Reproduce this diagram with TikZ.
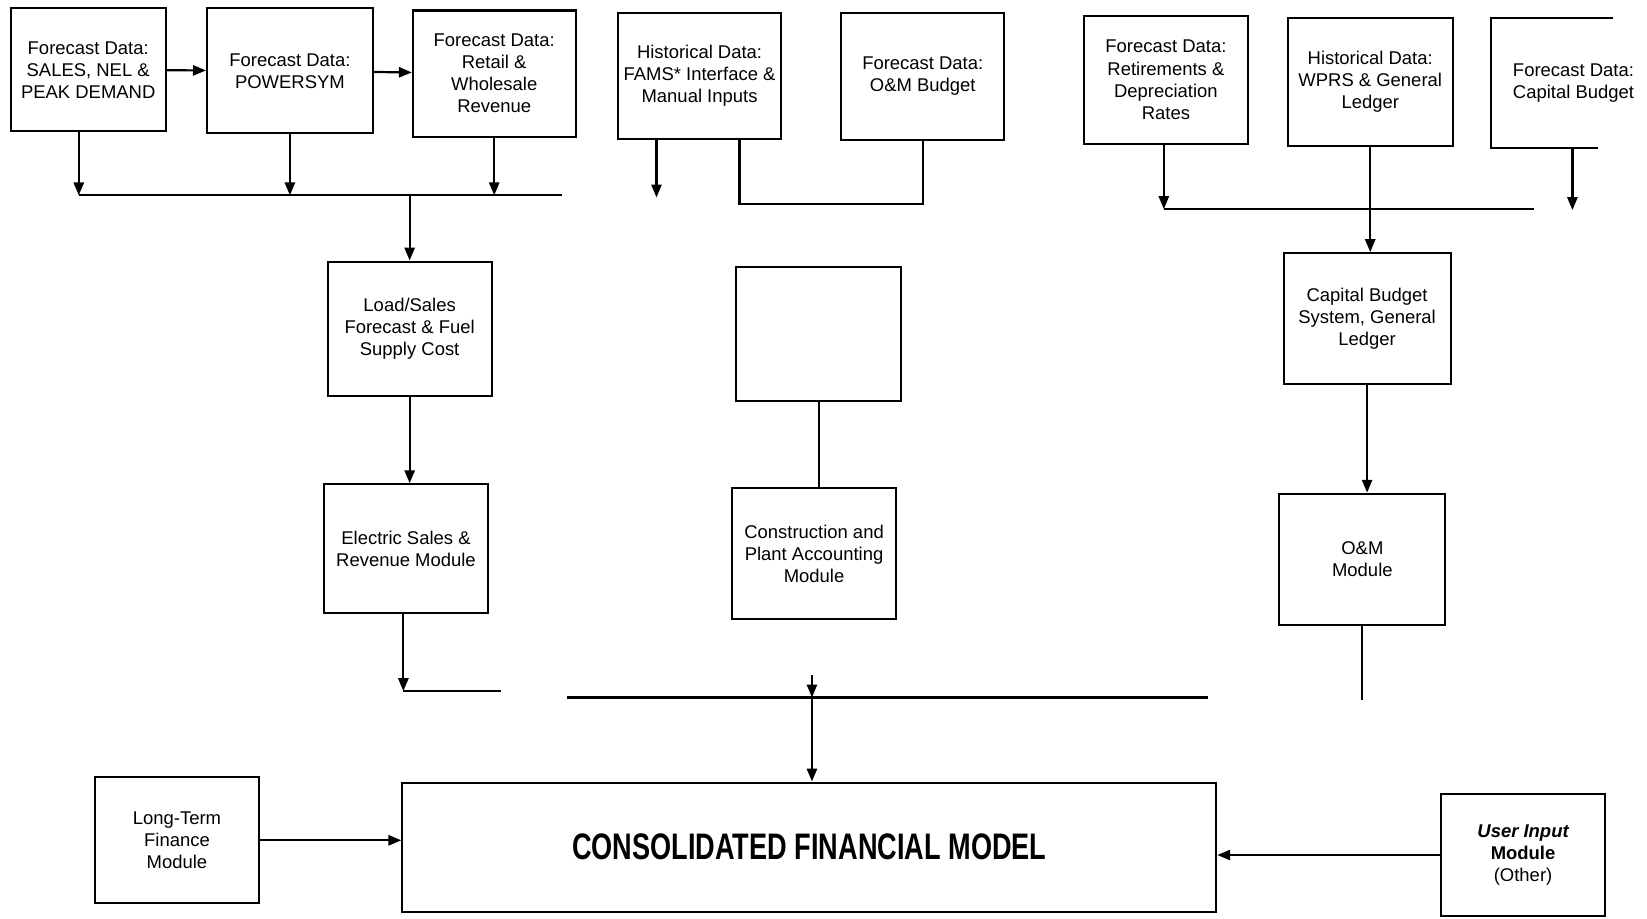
\documentclass[tikz,border=0pt]{standalone}
\usepackage{fontspec}
\setmainfont{Liberation Sans}
\usetikzlibrary{positioning, calc, arrows.meta}

\tikzset{
  box/.style={draw, line width=1.1pt, align=center, inner sep=2pt,
    minimum width=3.12cm, minimum height=2.44cm},
  wire/.style={line width=1.2pt},
}

\begin{document}
\begin{tikzpicture}[x=0.02cm, y=-0.02cm, >={Triangle[length=7pt, width=5.5pt]}]
        \useasboundingbox (0,0) rectangle (1568,874);

        % Top row: data sources
        \node[box, minimum width=2.96cm, minimum height=2.34cm] (sales) at (84,66.5) {Forecast Data:\\SALES, NEL \&\\PEAK DEMAND};
        \node[box, minimum width=3.16cm, minimum height=2.38cm] (powersym) at (276,67.5) {Forecast Data:\\POWERSYM};
        \node[box, minimum width=3.10cm, minimum height=2.40cm] (retail) at (470.5,70) {Forecast Data:\\Retail \&\\Wholesale\\Revenue};
        \node[box, minimum height=2.40cm] (fams) at (666,72) {Historical Data:\\FAMS* Interface \&\\Manual Inputs};
        \node[box, minimum width=3.10cm, minimum height=2.42cm] (ombudget) at (878.5,72.5) {Forecast Data:\\O\&M Budget};
        \node[box] (retire) at (1110,76) {Forecast Data:\\Retirements \&\\Depreciation\\Rates};
        \node[box, minimum width=3.14cm] (wprs) at (1304.5,78) {Historical Data:\\WPRS \& General\\Ledger};
        \node[box, draw=none] (capbudget) at (1498,79) {Forecast Data:\\Capital Budget};
        \draw[line width=1.1pt] ($(capbudget.north west)+(117,0)$) -- (capbudget.north west)
          -- (capbudget.south west) -- ++(102,0);

        % Middle row
        \node[box, minimum height=2.56cm] (load) at (390,313) {Load/Sales\\Forecast \& Fuel\\Supply Cost};
        \node[box, minimum width=3.14cm, minimum height=2.56cm] (blank) at (779.5,318) {};
        \node[box, minimum width=3.18cm, minimum height=2.50cm] (capsys) at (1301.5,303.5) {Capital Budget\\System, General\\Ledger};

        % Module row
        \node[box, minimum width=3.14cm, minimum height=2.46cm] (elec) at (386.5,522.5) {Electric Sales \&\\Revenue Module};
        \node[box, minimum height=2.48cm] (constr) at (775,527) {Construction and\\Plant Accounting\\Module};
        \node[box, minimum width=3.16cm, minimum height=2.50cm] (ommod) at (1297,532.5) {O\&M\\Module};

        % Bottom row
        \node[box, minimum width=3.14cm, minimum height=2.40cm] (ltf) at (168.5,800) {Long-Term\\Finance\\Module};
        \node[box, minimum width=15.5cm, minimum height=2.46cm] (cfm) at (770.5,806.5)
          {\scalebox{0.735}[1]{\fontsize{20}{24}\selectfont\bfseries CONSOLIDATED FINANCIAL MODEL}};
        \node[box, minimum height=2.34cm] (user) at (1450,814) {\bfseries\itshape User Input\\\bfseries Module\\(Other)};

        % Bus coordinates
        \coordinate (busA) at (75,186);
        \coordinate (busAend) at (535,186);
        \coordinate (famsEnd) at (625,188);
        \coordinate (loopL) at (704,194);
        \coordinate (busC) at (1108,199);
        \coordinate (busCend) at (1460,199);
        \coordinate (capEnd) at (1497,200);
        \coordinate (elbow) at (384,658);
        \coordinate (busB) at (540,664);
        \coordinate (busBend) at (1150,664);
        \coordinate (drop) at (773,643);

        % Top row links
        \draw[wire, ->] (sales) -- (powersym);
        \draw[wire, ->] (powersym) -- (retail);
        \draw[wire] (busA) -- (busAend);
        \draw[wire, ->] (sales.south -| busA) -- (busA);
        \draw[wire, ->] (powersym.south) -- (powersym.south |- busA);
        \draw[wire, ->] (retail.south) -- (retail.south |- busA);
        \draw[wire, ->] (load.north |- busA) -- (load.north);

        \draw[wire, ->] (fams.south -| famsEnd) -- (famsEnd);
        \draw[wire] (ombudget.south) |- (loopL) -- (loopL |- fams.south);

        \draw[wire] (busC) -- (busCend);
        \draw[wire, ->] (retire.south -| busC) -- (busC);
        \draw[wire, ->] (wprs.south) -- (wprs.south |- capsys.north);
        \draw[wire, ->] (capbudget.south -| capEnd) -- (capEnd);

        % Middle to modules
        \draw[wire, ->] (load.south) -- (load.south |- elec.north);
        \draw[wire] (blank.south) -- (blank.south |- constr.north);
        \draw[wire, ->] (capsys.south) -- (capsys.south |- ommod.north);

        % Modules to the model
        \draw[wire, ->] (elec.south -| elbow) -- (elbow);
        \draw[wire] (elbow) -- ++(93,0);
        \draw[wire] (busB) -- (busBend);
        \draw[wire, ->] (drop) -- (drop |- busB);
        \draw[wire, ->] (drop |- busB) -- (cfm.north -| drop);
        \draw[wire] (ommod.south) -- ++(0,70);

        \draw[wire, ->] (ltf.east) -- (ltf.east -| cfm.west);
        \draw[wire, ->] (user.west) -- (user.west -| cfm.east);
    \end{tikzpicture}
\end{document}
